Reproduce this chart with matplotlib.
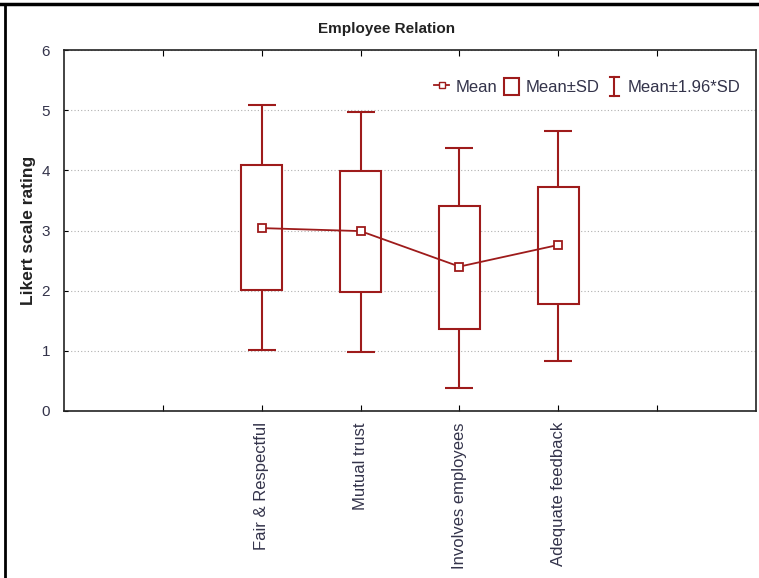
import matplotlib.pyplot as plt
from matplotlib.patches import Rectangle, Patch
from matplotlib.lines import Line2D
from matplotlib.legend_handler import HandlerBase

# values
categories = ["Fair & Respectful", "Mutual trust", "Involves employees", "Adequate feedback"]
means = [3.04, 2.99, 2.40, 2.76]
sd_low = [2.01, 1.97, 1.37, 1.78]
sd_high = [4.09, 3.99, 3.40, 3.73]
ci_low = [1.01, 0.98, 0.39, 0.83]
ci_high = [5.09, 4.97, 4.37, 4.66]

red = "#9E1B1B"
txt = "#33334a"
plt.rcParams['font.family'] = ['Liberation Sans', 'DejaVu Sans']


class IBarHandler(HandlerBase):
    # draws the little I shape used for the whisker entry
    def create_artists(self, legend, orig_handle, xd, yd, width, height, fontsize, trans):
        cx = width / 2 - xd
        y0 = -yd - 1
        y1 = height - yd + 1
        cw = width * 0.3
        lines = [Line2D([cx, cx], [y0, y1]),
                 Line2D([cx - cw, cx + cw], [y0, y0]),
                 Line2D([cx - cw, cx + cw], [y1, y1])]
        for ln in lines:
            ln.set_color(red)
            ln.set_linewidth(1.5)
            ln.set_transform(trans)
        return lines


fig = plt.figure(figsize=(7.59, 5.78), dpi=100)
ax = fig.add_axes([64/759, 1 - 411/578, (756-64)/759, (411-50)/578])

xs = [2, 3, 4, 5]
box_w = 0.41

# whiskers (mean +- 1.96*SD)
err_lo = [m - l for m, l in zip(means, ci_low)]
err_hi = [h - m for m, h in zip(means, ci_high)]
ax.errorbar(xs, means, yerr=[err_lo, err_hi], fmt='none', ecolor=red,
            elinewidth=1.5, capsize=10, capthick=1.5, zorder=2)

# boxes (mean +- SD)
for x, lo, hi in zip(xs, sd_low, sd_high):
    ax.add_patch(Rectangle((x - box_w/2, lo), box_w, hi - lo, facecolor='white',
                           edgecolor=red, linewidth=1.5, zorder=3))

# means
ax.plot(xs, means, color=red, linewidth=1.3, marker='s', markersize=6,
        markerfacecolor='white', markeredgecolor=red, markeredgewidth=1.3, zorder=4)

ax.set_xlim(0, 7)
ax.set_ylim(0, 6)
ax.set_xticks(range(1, 7))
ax.set_xticklabels([''] + categories + [''], rotation=90, fontsize=12, color=txt)
ax.set_yticks(range(0, 7))
ax.set_yticklabels([str(v) for v in range(0, 7)], fontsize=11, color=txt)
ax.tick_params(axis='x', direction='in', top=True, length=4, pad=8)
ax.tick_params(axis='y', direction='in', length=3, pad=10)
for s in ax.spines.values():
    s.set_linewidth(1.2)
    s.set_color('#222222')
ax.yaxis.grid(True, linestyle=(0, (1, 2)), color='#b0b0b0', linewidth=0.8)
ax.set_axisbelow(True)

fig.text(387/759, 1 - 29/578, "Employee Relation", fontsize=11, fontweight='bold',
         color='#222222', ha='center', va='center')
ax.set_ylabel("Likert scale rating", fontsize=12.5, fontweight='bold', color='#222222', labelpad=4)

h_mean = Line2D([], [], color=red, linewidth=1.3, marker='s', markersize=5,
                markerfacecolor='white', markeredgecolor=red)
h_box = Patch(facecolor='white', edgecolor=red, linewidth=1.5)
h_ibar = object()
leg = ax.legend([h_mean, h_box, h_ibar], ["Mean", "Mean±SD", "Mean±1.96*SD"],
                handler_map={object: IBarHandler()},
                loc='upper right', bbox_to_anchor=(0.994, 0.955), ncol=3, frameon=False,
                handlelength=0.9, handleheight=1.2, handletextpad=0.35, columnspacing=0.45,
                borderaxespad=0.3, fontsize=12)
for t in leg.get_texts():
    t.set_color(txt)

# figure frame (top and left)
fig.add_artist(Line2D([0, 1], [1 - 4/578, 1 - 4/578], color='black', linewidth=2.5))
fig.add_artist(Line2D([5/759, 5/759], [0, 1 - 4/578], color='black', linewidth=2))

fig.savefig("out.png", dpi=100)
